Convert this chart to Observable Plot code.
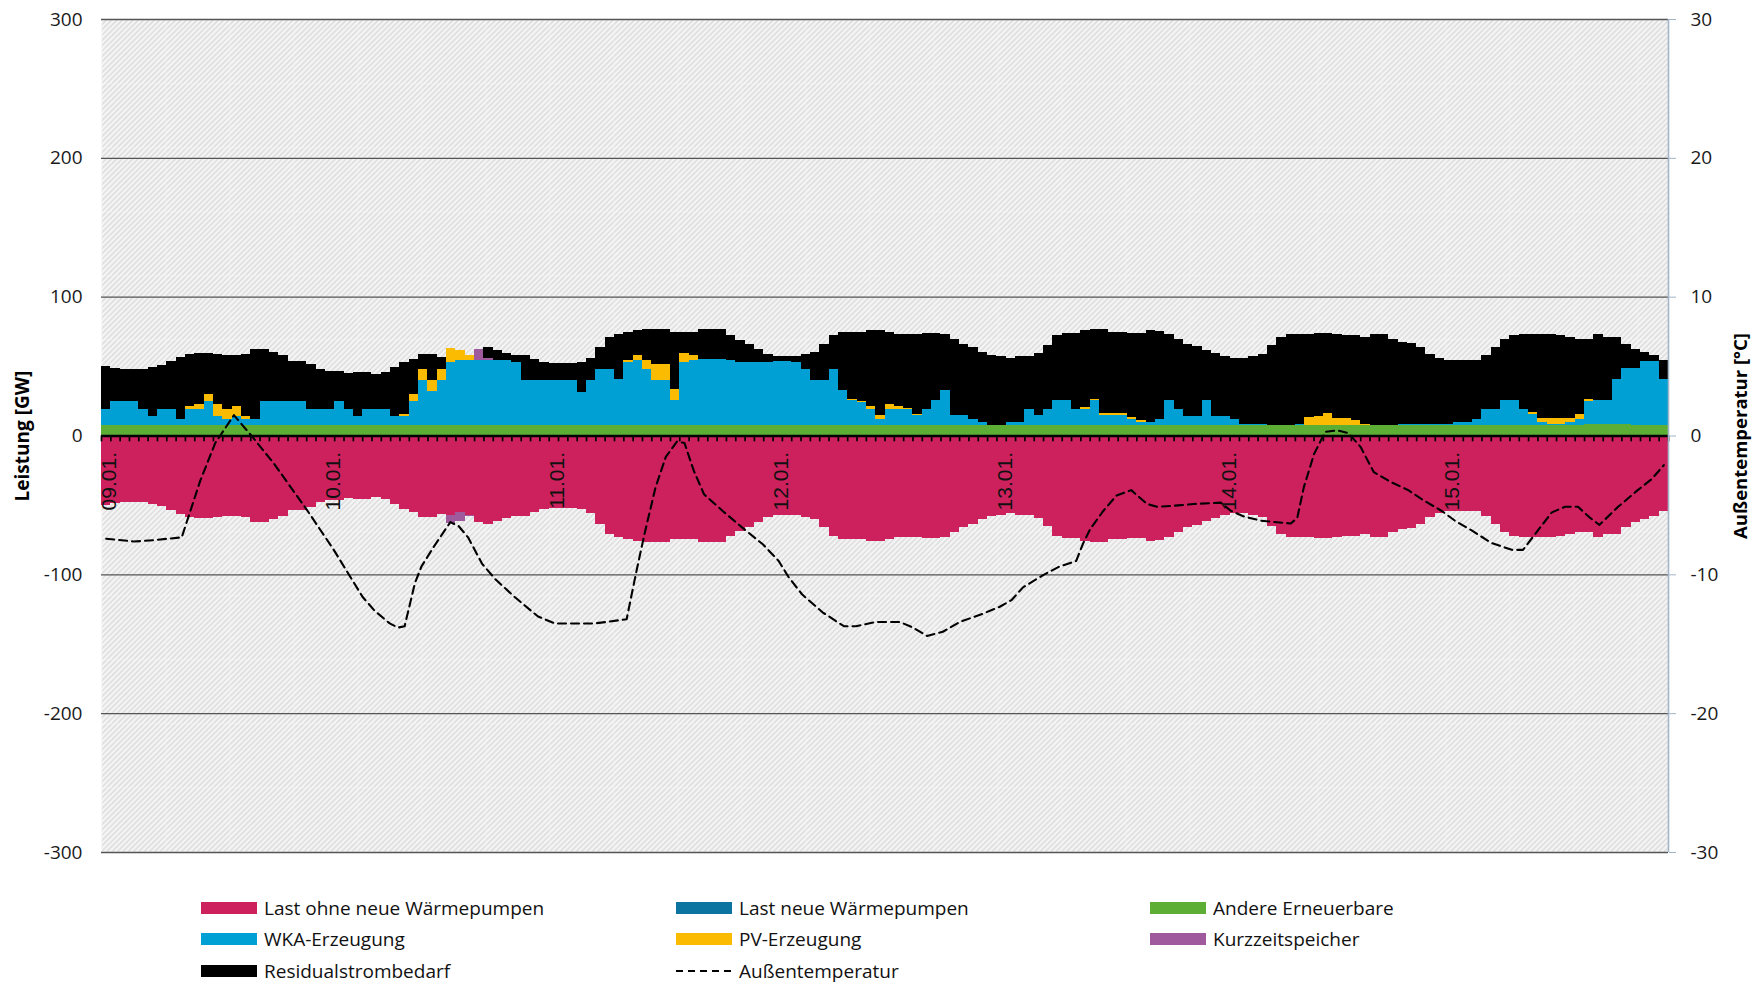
<!DOCTYPE html>
<html lang="de">
<head>
<meta charset="utf-8">
<title>Last und Erzeugung 09.01.–15.01.</title>
<script src="https://cdn.jsdelivr.net/npm/d3@7"></script>
<script src="https://cdn.jsdelivr.net/npm/@observablehq/plot@0.6"></script>
<style>
  html, body { margin: 0; padding: 0; background: #fff; }
  #diagramm { position: relative; width: 1755px; height: 984px; font-family: "Open Sans", sans-serif; }
  #diagramm svg { display: block; }
  .eintrag { position: absolute; display: flex; align-items: center; font-size: 19px; color: #111; white-space: nowrap; transform: translateY(-50%); }
  .feld { width: 56px; height: 12px; margin-right: 7px; flex: none; }
</style>
</head>
<body>
<div id="diagramm"></div>
<script>
// Tage (Beschriftung der x-Achse) und Achsenteilung
const tage = ["09.01.", "10.01.", "11.01.", "12.01.", "13.01.", "14.01.", "15.01."];
const yTicks = [-300, -200, -100, 0, 100, 200, 300];

// Stündliche Werte in GW, 7 Tage × 24 Stunden
const last = [
  50.1, 48.7, 48.2, 48.2, 48.2, 49.4, 50.6, 53.7, 56.6, 58.8, 59.7, 59.7, 59.0, 58.0, 58.0, 59.0, 62.1, 62.1, 60.2, 57.8, 53.7, 53.7, 51.8, 48.0,
  46.3, 46.3, 45.0, 45.8, 45.8, 44.6, 45.8, 49.4, 53.0, 55.4, 59.0, 59.0, 56.6, 57.3, 55.4, 57.3, 62.4, 63.8, 61.9, 59.5, 58.0, 58.0, 55.4, 53.0,
  52.3, 52.3, 52.3, 53.0, 56.1, 63.8, 71.0, 73.4, 74.6, 75.8, 76.5, 76.5, 76.5, 74.6, 74.6, 74.6, 76.5, 76.5, 76.5, 72.2, 69.1, 65.7, 62.6, 59.0,
  57.1, 57.1, 57.1, 59.0, 60.2, 66.2, 72.2, 74.6, 74.6, 74.6, 75.8, 75.8, 74.6, 72.9, 72.9, 72.9, 74.1, 74.1, 73.4, 69.8, 66.2, 63.8, 60.2, 57.8,
  57.1, 55.9, 57.1, 57.1, 59.7, 65.0, 72.2, 73.9, 73.9, 75.8, 76.5, 76.5, 74.6, 74.6, 73.9, 73.9, 76.3, 75.3, 73.4, 69.8, 66.2, 64.3, 61.9, 59.5,
  57.1, 55.9, 55.9, 57.1, 59.0, 65.0, 71.0, 72.9, 72.9, 73.4, 74.1, 74.1, 72.9, 72.2, 72.2, 71.0, 72.9, 72.9, 69.8, 67.4, 66.7, 63.8, 59.0, 55.9,
  54.2, 54.2, 54.2, 54.2, 57.8, 63.8, 69.8, 72.2, 73.4, 73.4, 73.4, 73.4, 72.2, 71.0, 69.8, 69.8, 72.9, 71.0, 71.0, 66.2, 62.6, 60.2, 57.8, 54.2
];
const andere = [
  7.5, 7.5, 7.5, 7.5, 7.5, 7.5, 7.5, 7.5, 7.5, 7.5, 7.5, 7.5, 7.5, 7.5, 7.5, 7.5, 7.5, 7.5, 7.5, 7.5, 7.5, 7.5, 7.5, 7.5,
  7.5, 7.5, 7.5, 7.5, 7.5, 7.5, 7.5, 7.5, 7.5, 7.5, 7.5, 7.5, 7.5, 7.5, 7.5, 7.5, 7.5, 7.5, 7.5, 7.5, 7.5, 7.5, 7.5, 7.5,
  7.5, 7.5, 7.5, 7.5, 7.5, 7.5, 7.5, 7.5, 7.5, 7.5, 7.5, 7.5, 7.5, 7.5, 7.5, 7.5, 7.5, 7.5, 7.5, 7.5, 7.5, 7.5, 7.5, 7.5,
  7.5, 7.5, 7.5, 7.5, 7.5, 7.5, 7.5, 7.5, 7.5, 7.5, 7.5, 7.5, 7.5, 7.5, 7.5, 7.5, 7.5, 7.5, 7.5, 7.5, 7.5, 7.5, 7.5, 7.5,
  7.5, 7.5, 7.5, 7.5, 7.5, 7.5, 7.5, 7.5, 7.5, 7.5, 7.5, 7.5, 7.5, 7.5, 7.5, 7.5, 7.5, 7.5, 7.5, 7.5, 7.5, 7.5, 7.5, 7.5,
  7.5, 7.5, 7.5, 7.5, 7.5, 7.5, 7.5, 7.5, 7.5, 7.5, 7.5, 7.5, 7.5, 7.5, 7.5, 7.5, 7.5, 7.5, 7.5, 7.5, 7.5, 7.5, 7.5, 7.5,
  7.5, 7.5, 7.5, 7.5, 7.5, 7.5, 7.5, 7.5, 7.5, 7.5, 7.5, 7.5, 7.5, 7.5, 7.5, 8.6, 8.6, 8.6, 8.6, 8.6, 7.5, 7.5, 7.5, 7.5
];
const wka = [
  11.4, 17.7, 17.7, 17.7, 11.4, 6.9, 11.4, 11.4, 4.5, 11.4, 11.4, 17.7, 6.9, 4.5, 6.9, 4.5, 4.5, 17.7, 17.7, 17.7, 17.7, 17.7, 11.4, 11.4,
  11.4, 17.7, 11.4, 6.9, 11.4, 11.4, 11.4, 6.9, 6.9, 17.4, 32.3, 24.6, 32.3, 45.5, 47.2, 47.2, 47.2, 47.2, 47.2, 47.2, 45.5, 32.3, 32.3, 32.3,
  32.3, 32.3, 32.3, 23.9, 32.3, 40.7, 40.7, 33.5, 45.5, 47.2, 40.7, 32.3, 32.3, 17.9, 45.5, 46.7, 47.4, 47.4, 47.4, 46.7, 45.5, 45.5, 45.5, 45.5,
  46.2, 46.2, 45.5, 40.7, 32.3, 32.3, 40.7, 25.1, 17.9, 16.7, 11.4, 4.3, 11.4, 11.4, 11.4, 7.1, 11.4, 17.9, 25.1, 7.1, 7.1, 4.7, 2.3, 0,
  0, 2.3, 2.3, 11.4, 7.1, 11.4, 17.9, 17.9, 11.4, 11.4, 17.9, 7.1, 7.1, 7.1, 4.3, 2.3, 1.9, 4.3, 17.9, 11.4, 6.6, 6.6, 17.9, 6.6,
  6.6, 4.3, 1.1, 1.1, 1.1, 0, 0, 0, 0.9, 0.4, 0, 0, 0, 0, 0, 0, 0, 0, 0, 1.1, 0.7, 0.7, 0.7, 0.7,
  0.7, 1.9, 1.9, 4.3, 11.4, 11.4, 17.9, 17.9, 11.4, 7.8, 2.3, 1.1, 1.1, 2.3, 4.3, 16.1, 16.8, 16.8, 31.9, 40.3, 41.4, 46.2, 46.2, 33.3
];
const pv = [
  0, 0, 0, 0, 0, 0, 0, 0, 0, 2.4, 3.6, 5.0, 8.2, 7.0, 7.0, 2.2, 0, 0, 0, 0, 0, 0, 0, 0,
  0, 0, 0, 0, 0, 0, 0, 0, 1.0, 4.8, 7.9, 7.7, 7.9, 10.3, 6.7, 3.4, 0, 0, 0, 0, 0, 0, 0, 0,
  0, 0, 0, 0, 0, 0, 0, 0, 1.2, 3.1, 6.5, 12.0, 12.0, 7.9, 6.7, 3.6, 0, 0, 0, 0, 0, 0, 0, 0,
  0, 0, 0, 0, 0, 0, 0, 0, 0.7, 1.0, 2.4, 2.9, 3.6, 2.4, 1.2, 1.0, 0, 0, 0, 0, 0, 0, 0, 0,
  0, 0, 0, 0, 0, 0, 0, 0, 0, 1.4, 1.0, 1.9, 1.9, 1.9, 1.4, 1.2, 0, 0, 0, 0, 0, 0, 0, 0,
  0, 0, 0, 0, 0, 0, 0, 0, 0, 5.5, 6.7, 8.4, 4.8, 4.8, 3.6, 1.0, 0, 0, 0, 0, 0, 0, 0, 0,
  0, 0, 0, 0, 0, 0, 0, 0, 0, 1.4, 3.1, 4.3, 4.3, 3.1, 3.6, 1.4, 0, 0, 0, 0, 0, 0, 0, 0
];
// Kurzzeitspeicher: Ausspeisung (positiv) und Einspeicherung (negativ), nur wenige Stunden
const speicherAusStunde = [40, 41];
const speicherAusWert = [7.7, 1.4];
const speicherEinStunde = [37, 38, 39];
const speicherEinWert = [6.0, 6.0, 0.7];

// Außentemperatur in °C (Stützpunkte, Stunde seit 09.01. 0 Uhr)
const tempStunde = [0.5, 3.5, 5.6, 8.6, 10.6, 12.2, 14.2, 16.1, 18.5, 22.0, 24.9, 28.0, 29.3, 30.9, 31.8, 32.5, 33.6, 34.3, 35.6, 37.4, 38.3, 39.3, 40.8, 42.2, 44.3, 46.8, 48.6, 52.9, 56.3, 57.3, 58.2, 59.4, 60.5, 61.7, 62.5, 63.5, 64.6, 66.6, 68.7, 70.9, 72.6, 73.7, 75.1, 77.3, 79.6, 80.9, 83.0, 85.6, 87.0, 88.5, 90.2, 92.0, 94.5, 96.3, 97.6, 98.8, 101.0, 102.7, 104.5, 105.2, 106.0, 107.4, 108.8, 110.4, 112.1, 113.2, 115.4, 117.1, 120.0, 121.1, 122.5, 124.3, 127.5, 128.2, 128.9, 130.0, 131.2, 132.5, 133.7, 135.0, 136.4, 138.2, 140.1, 141.9, 143.7, 145.1, 146.9, 149.0, 151.2, 152.4, 154.0, 155.5, 156.9, 158.3, 159.6, 160.6, 162.6, 164.7, 166.2, 167.5];
const tempWert = [-7.4, -7.6, -7.5, -7.3, -3.2, -0.5, 1.5, 0.0, -2.0, -5.3, -8.2, -11.6, -12.6, -13.5, -13.8, -13.7, -10.6, -9.4, -8.0, -6.2, -6.5, -7.3, -9.2, -10.3, -11.6, -13.0, -13.5, -13.5, -13.2, -9.9, -7.1, -3.7, -1.5, -0.4, -0.5, -2.5, -4.2, -5.4, -6.6, -7.8, -9.0, -10.2, -11.4, -12.7, -13.7, -13.7, -13.4, -13.4, -13.8, -14.4, -14.1, -13.4, -12.8, -12.3, -11.8, -10.9, -10.0, -9.4, -9.0, -7.8, -6.7, -5.4, -4.3, -3.9, -4.9, -5.1, -5.0, -4.9, -4.8, -5.4, -5.8, -6.1, -6.3, -5.9, -3.7, -1.3, 0.3, 0.4, 0.2, -0.8, -2.6, -3.3, -3.9, -4.7, -5.4, -6.1, -6.8, -7.7, -8.2, -8.2, -6.8, -5.5, -5.1, -5.1, -5.9, -6.4, -5.1, -3.9, -3.1, -2.1];

// Reihenfolge im Stapel (positiv von 0 nach oben, negativ von 0 nach unten) und Farben
const serien = ["Andere Erneuerbare", "WKA-Erzeugung", "PV-Erzeugung", "Kurzzeitspeicher", "Residualstrombedarf",
                "Last ohne neue Wärmepumpen", "Kurzzeitspeicher (Einspeicherung)", "Last neue Wärmepumpen"];
const farben = ["#5DAE35", "#009FD4", "#FBBB00", "#9E5A9C", "#000000", "#CD215D", "#9E5A9C", "#0B74A0"];

// Tabelle im Langformat für den gestapelten Balkenverlauf
const zeilen = [];
last.forEach((l, h) => {
  const aus = speicherAusWert[speicherAusStunde.indexOf(h)] ?? 0;
  const ein = speicherEinWert[speicherEinStunde.indexOf(h)] ?? 0;
  // Residualstrombedarf: nicht durch Erneuerbare und Speicher gedeckter Bedarf
  const residual = Math.max(0, l + ein - andere[h] - wka[h] - pv[h] - aus);
  zeilen.push(
    {h, serie: "Andere Erneuerbare", wert: andere[h]},
    {h, serie: "WKA-Erzeugung", wert: wka[h]},
    {h, serie: "PV-Erzeugung", wert: pv[h]},
    {h, serie: "Kurzzeitspeicher", wert: aus},
    {h, serie: "Residualstrombedarf", wert: residual},
    {h, serie: "Last ohne neue Wärmepumpen", wert: -l},
    {h, serie: "Kurzzeitspeicher (Einspeicherung)", wert: -ein}
  );
});
const temperatur = tempStunde.map((t, i) => ({t, temp: tempWert[i]}));
const stundenTicks = d3.range(0, last.length + 1);

const achsenFarbe = "#A3B5C9";

const chart = Plot.plot({
  width: 1755,
  height: 870,
  marginLeft: 101,
  marginRight: 87,
  marginTop: 19,
  marginBottom: 18,
  style: {fontFamily: "'Open Sans', sans-serif", fontSize: "19px", color: "#1a1a1a", background: "transparent", overflow: "visible"},
  x: {domain: [0, last.length], axis: null},
  y: {domain: [-300, 300], axis: null},
  color: {domain: serien, range: farben},
  marks: [
    Plot.frame({fill: "url(#schraffur)"}),
    Plot.ruleY(yTicks.filter(v => v !== 0), {stroke: "#555", strokeWidth: 1.3}),
    Plot.rectY(zeilen, {x1: "h", x2: d => d.h + 1, y: "wert", fill: "serie", order: serien, shapeRendering: "crispEdges"}),
    Plot.ruleY([0], {stroke: "#000", strokeWidth: 2.4}),
    Plot.ruleX(stundenTicks, {x: d => d, y1: 0, y2: -4.2, stroke: "#000", strokeWidth: 1.7}),
    Plot.text(tage, {x: (d, i) => i * 24, y: 0, dx: 8, dy: 16, rotate: -90, textAnchor: "end", text: d => d,
                     fontFamily: "'Liberation Sans', sans-serif", fontSize: 21, fill: "#111"}),
    Plot.line(temperatur, {x: "t", y: d => d.temp * 10, stroke: "#000", strokeWidth: 2.1, strokeDasharray: "8 5"}),
    Plot.ruleX([last.length], {stroke: achsenFarbe, strokeWidth: 1.6}),
    Plot.axisY({anchor: "left", ticks: yTicks, tickSize: 0, tickPadding: 19, tickFormat: d => String(d), label: null}),
    Plot.axisY({anchor: "right", ticks: yTicks, tickSize: 7, tickPadding: 15, tickFormat: d => String(d / 10), stroke: achsenFarbe, label: null}),
    Plot.text(["Leistung [GW]"], {frameAnchor: "left", textAnchor: "middle", dx: -78.5, rotate: -90, fontWeight: "bold", fontSize: 19, fill: "#000"}),
    Plot.text(["Außentemperatur [°C]"], {frameAnchor: "right", textAnchor: "middle", dx: 72.5, rotate: -90, fontWeight: "bold", fontSize: 18.5, fill: "#000"})
  ]
});

// Schraffur des Diagrammhintergrunds
const defs = d3.select(chart).insert("defs", ":first-child");
const muster = defs.append("pattern")
  .attr("id", "schraffur")
  .attr("patternUnits", "userSpaceOnUse")
  .attr("x", 101).attr("y", 19)
  .attr("width", 64).attr("height", 64);
muster.append("rect").attr("width", 64).attr("height", 64).attr("fill", "#f6f6f6");
for (let c = 0; c <= 128; c += 64 / 12) {
  muster.append("line")
    .attr("x1", c).attr("y1", 0).attr("x2", c - 64).attr("y2", 64)
    .attr("stroke", "#d3d3d3").attr("stroke-width", 1.2);
}
muster.append("line").attr("x1", 0.5).attr("y1", 0).attr("x2", 0.5).attr("y2", 64).attr("stroke", "#fafafa").attr("stroke-opacity", 0.3);
muster.append("line").attr("x1", 0).attr("y1", 0.5).attr("x2", 64).attr("y2", 0.5).attr("stroke", "#fafafa").attr("stroke-opacity", 0.3);

const container = document.getElementById("diagramm");
container.appendChild(chart);

// Legende unter dem Diagramm
const legende = [
  {name: "Last ohne neue Wärmepumpen", farbe: "#CD215D", spalte: 0, zeile: 0},
  {name: "Last neue Wärmepumpen", farbe: "#0B74A0", spalte: 1, zeile: 0},
  {name: "Andere Erneuerbare", farbe: "#5DAE35", spalte: 2, zeile: 0},
  {name: "WKA-Erzeugung", farbe: "#009FD4", spalte: 0, zeile: 1},
  {name: "PV-Erzeugung", farbe: "#FBBB00", spalte: 1, zeile: 1},
  {name: "Kurzzeitspeicher", farbe: "#9E5A9C", spalte: 2, zeile: 1},
  {name: "Residualstrombedarf", farbe: "#000000", spalte: 0, zeile: 2},
  {name: "Außentemperatur", farbe: null, spalte: 1, zeile: 2}
];
const spaltenX = [201, 676, 1150];
const zeilenY = [908, 939, 971];
for (const e of legende) {
  const div = document.createElement("div");
  div.className = "eintrag";
  div.style.left = spaltenX[e.spalte] + "px";
  div.style.top = zeilenY[e.zeile] + "px";
  let feld;
  if (e.farbe) {
    feld = document.createElement("div");
    feld.className = "feld";
    feld.style.background = e.farbe;
  } else {
    feld = document.createElementNS("http://www.w3.org/2000/svg", "svg");
    feld.setAttribute("class", "feld");
    feld.setAttribute("width", 56);
    feld.setAttribute("height", 12);
    feld.innerHTML = '<line x1="0" y1="6" x2="56" y2="6" stroke="#000" stroke-width="2" stroke-dasharray="7 5"/>';
  }
  const text = document.createElement("span");
  text.textContent = e.name;
  div.appendChild(feld);
  div.appendChild(text);
  container.appendChild(div);
}
</script>
</body>
</html>
